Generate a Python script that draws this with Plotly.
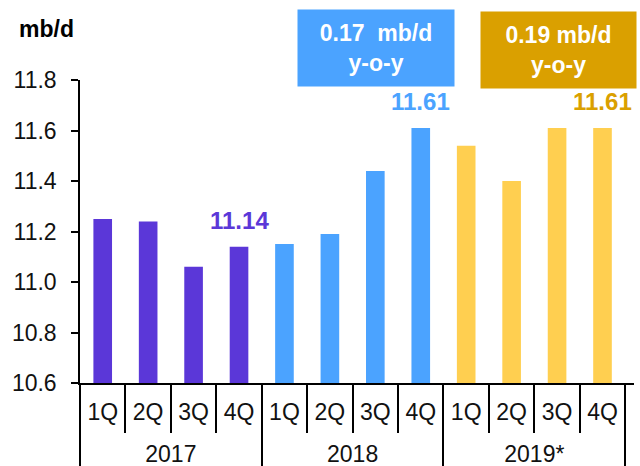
import plotly.graph_objects as go

years = ["2017"] * 4 + ["2018"] * 4 + ["2019*"] * 4
quarters = ["1Q", "2Q", "3Q", "4Q"] * 3
values = [11.25, 11.24, 11.06, 11.14, 11.15, 11.19, 11.44, 11.61, 11.54, 11.40, 11.61, 11.61]
bar_colors = ["#5B37D8"] * 4 + ["#4BA3FF"] * 4 + ["#FFCF50"] * 4

label_idx = [3, 7, 11]
label_colors = ["#5B37D8", "#4BA3FF", "#DAA000"]

yoy_texts = ["0.17&nbsp;&nbsp;mb/d<br>y-o-y", "0.19 mb/d<br>y-o-y"]
yoy_colors = ["#4BA3FF", "#DAA000"]

FONT = "Liberation Sans, Arial, sans-serif"
W, H = 640, 466
L, R, T, B = 80, 6, 80, 83
PW, PH = W - L - R, H - T - B


def px_x(x):
    return (x - L) / PW


def px_y(y):
    return (H - B - y) / PH


# narrow invisible tall strut on both sides: enlarges the quarter-label box so the year row sits lower
STRUT = '<span style="font-size:43px;color:rgba(0,0,0,0)">\u200a</span>'
inner = [STRUT + q + STRUT for q in quarters]

fig = go.Figure()
fig.add_trace(go.Bar(
    x=[years, inner], y=values,
    marker=dict(color=bar_colors, line=dict(width=0)),
    width=0.41, showlegend=False, hoverinfo="skip",
))

for i, c in zip(label_idx, label_colors):
    fig.add_annotation(
        x=i, y=values[i], xref="x", yref="y", text=f"<b>{values[i]:.2f}</b>",
        showarrow=False, yanchor="bottom", yshift=11,
        font=dict(family=FONT, size=24, color=c),
    )

# y-o-y boxes
box_pos = [(298, 454, 10, 86), (481, 636, 12, 88)]
pad = 4
for (x0, x1, y0, y1), txt, col in zip(box_pos, yoy_texts, yoy_colors):
    fig.add_annotation(
        x=px_x((x0 + x1) / 2), y=px_y((y0 + y1) / 2), xref="paper", yref="paper",
        xanchor="center", yanchor="middle",
        text=f"<b>{txt}</b>", showarrow=False, align="center",
        bgcolor=col, width=x1 - x0 - 2 * pad, height=y1 - y0 - 2 * pad, borderpad=pad,
        font=dict(family=FONT, size=23, color="white"),
    )

fig.add_annotation(
    x=px_x(17), y=px_y(29), xref="paper", yref="paper", xanchor="left", yanchor="middle",
    text="<b>mb/d</b>", showarrow=False, font=dict(family=FONT, size=23, color="black"),
)

fig.update_layout(
    width=W, height=H,
    margin=dict(l=L, r=R, t=T, b=B, autoexpand=False),
    plot_bgcolor="white", paper_bgcolor="white",
    font=dict(family=FONT, size=23, color="#111"),
    bargap=0.59,
)
fig.update_yaxes(
    range=[10.6, 11.8], dtick=0.2, tickformat=".1f",
    showgrid=False, zeroline=False, automargin=False,
    showline=True, linecolor="black", linewidth=1.5,
    ticks="outside", ticklen=7, tickcolor="black", tickwidth=1.5,
    ticklabelstandoff=10,
    tickfont=dict(size=23),
)
fig.update_xaxes(
    type="multicategory", automargin=False, tickangle=0,
    showgrid=False, showline=True, linecolor="black", linewidth=1.5,
    ticks="outside", tickson="boundaries", ticklen=48, tickcolor="black", tickwidth=1.5,
    ticklabelstandoff=8,
    showdividers=True, dividercolor="black", dividerwidth=1.5,
    tickfont=dict(size=23),
)

fig.write_html("out.html", config={"displayModeBar": False},
               post_script="document.body.style.margin='0';")
